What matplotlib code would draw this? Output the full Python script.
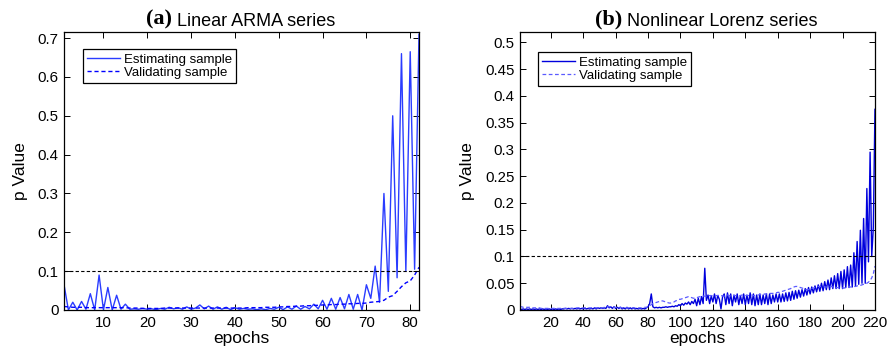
import numpy as np
import matplotlib
matplotlib.use("Agg")
import matplotlib.pyplot as plt
from matplotlib.ticker import FormatStrFormatter

plt.rcParams['font.family'] = ['Liberation Sans', 'DejaVu Sans']

# (a) Linear ARMA series, epochs 1..82
arma_est = [
    0.065, 0.0, 0.02, 0.0, 0.022, 0.002, 0.042, 0.0, 0.09, 0.0,
    0.058, 0.0, 0.038, 0.002, 0.015, 0.002, 0.003, 0.002, 0.004, 0.002,
    0.003, 0.001, 0.004, 0.002, 0.007, 0.003, 0.006, 0.002, 0.008, 0.002,
    0.005, 0.013, 0.003, 0.01, 0.002, 0.008, 0.002, 0.007, 0.001, 0.006,
    0.002, 0.004, 0.002, 0.003, 0.001, 0.003, 0.001, 0.004, 0.002, 0.007,
    0.001, 0.008, 0.002, 0.01, 0.002, 0.009, 0.003, 0.015, 0.003, 0.025,
    0.002, 0.03, 0.002, 0.032, 0.003, 0.04, 0.002, 0.04, 0.0, 0.065,
    0.03, 0.113, 0.02, 0.3, 0.048, 0.5, 0.083, 0.66, 0.1, 0.665,
    0.105, 0.71,
]
arma_val = [
    0.009, 0.008, 0.007, 0.007, 0.007, 0.006, 0.006, 0.006, 0.006, 0.006,
    0.006, 0.006, 0.006, 0.006, 0.006, 0.005, 0.005, 0.005, 0.004, 0.004,
    0.004, 0.004, 0.004, 0.005, 0.005, 0.005, 0.005, 0.005, 0.005, 0.005,
    0.005, 0.005, 0.005, 0.005, 0.005, 0.005, 0.005, 0.005, 0.005, 0.005,
    0.005, 0.005, 0.006, 0.006, 0.006, 0.006, 0.007, 0.007, 0.007, 0.008,
    0.008, 0.009, 0.009, 0.01, 0.01, 0.011, 0.011, 0.012, 0.012, 0.013,
    0.013, 0.014, 0.014, 0.015, 0.015, 0.016, 0.016, 0.017, 0.017, 0.018,
    0.02, 0.021, 0.022, 0.025, 0.033, 0.037, 0.048, 0.06, 0.07, 0.075,
    0.09, 0.11,
]

# (b) Nonlinear Lorenz series, epochs 1..220
lorenz_est = [
    0.002, 0.001, 0.002, 0.001, 0.002, 0.001, 0.002, 0.001, 0.002, 0.001,
    0.002, 0.001, 0.002, 0.001, 0.002, 0.001, 0.002, 0.001, 0.002, 0.001,
    0.002, 0.001, 0.002, 0.001, 0.002, 0.001, 0.002, 0.002, 0.003, 0.002,
    0.003, 0.002, 0.003, 0.002, 0.003, 0.002, 0.003, 0.002, 0.003, 0.002,
    0.003, 0.002, 0.003, 0.002, 0.003, 0.002, 0.004, 0.002, 0.004, 0.003,
    0.004, 0.003, 0.004, 0.003, 0.008, 0.004, 0.006, 0.003, 0.006, 0.003,
    0.005, 0.003, 0.005, 0.002, 0.004, 0.002, 0.005, 0.002, 0.004, 0.002,
    0.004, 0.002, 0.003, 0.002, 0.003, 0.002, 0.003, 0.002, 0.004, 0.006,
    0.012, 0.03, 0.006, 0.004, 0.005, 0.004, 0.005, 0.004, 0.005, 0.005,
    0.006, 0.005, 0.006, 0.006, 0.007, 0.006, 0.008, 0.007, 0.01, 0.008,
    0.012, 0.009, 0.013, 0.011, 0.015, 0.01, 0.016, 0.012, 0.02, 0.008,
    0.022, 0.01, 0.025, 0.012, 0.078, 0.018, 0.028, 0.012, 0.026, 0.015,
    0.03, 0.012, 0.027, 0.02, 0.002, 0.025, 0.03, 0.01, 0.032, 0.012,
    0.03, 0.008, 0.028, 0.015, 0.03, 0.01, 0.027, 0.012, 0.03, 0.01,
    0.028, 0.012, 0.032, 0.01, 0.03, 0.008, 0.028, 0.01, 0.03, 0.01,
    0.028, 0.012, 0.03, 0.01, 0.03, 0.012, 0.028, 0.015, 0.03, 0.015,
    0.03, 0.015, 0.03, 0.016, 0.032, 0.017, 0.033, 0.018, 0.035, 0.02,
    0.036, 0.022, 0.037, 0.024, 0.038, 0.026, 0.04, 0.028, 0.042, 0.03,
    0.043, 0.032, 0.045, 0.034, 0.047, 0.035, 0.05, 0.036, 0.053, 0.038,
    0.056, 0.038, 0.06, 0.04, 0.064, 0.04, 0.068, 0.04, 0.072, 0.04,
    0.075, 0.042, 0.081, 0.042, 0.084, 0.043, 0.107, 0.045, 0.128, 0.048,
    0.149, 0.05, 0.171, 0.05, 0.227, 0.09, 0.295, 0.1, 0.155, 0.375,
]
lorenz_val = [
    0.006, 0.006, 0.005, 0.005, 0.005, 0.005, 0.005, 0.004, 0.004, 0.004,
    0.004, 0.004, 0.004, 0.003, 0.003, 0.003, 0.003, 0.003, 0.003, 0.003,
    0.003, 0.003, 0.003, 0.003, 0.003, 0.003, 0.003, 0.003, 0.003, 0.003,
    0.003, 0.003, 0.003, 0.003, 0.003, 0.004, 0.004, 0.004, 0.004, 0.004,
    0.004, 0.004, 0.004, 0.004, 0.004, 0.004, 0.004, 0.004, 0.004, 0.004,
    0.004, 0.004, 0.005, 0.005, 0.006, 0.006, 0.006, 0.006, 0.005, 0.005,
    0.005, 0.005, 0.005, 0.004, 0.004, 0.004, 0.004, 0.004, 0.004, 0.004,
    0.004, 0.004, 0.004, 0.004, 0.004, 0.004, 0.004, 0.005, 0.005, 0.006,
    0.008, 0.01, 0.012, 0.013, 0.014, 0.015, 0.016, 0.017, 0.017, 0.016,
    0.015, 0.014, 0.013, 0.013, 0.014, 0.015, 0.017, 0.018, 0.02, 0.02,
    0.021, 0.022, 0.023, 0.024, 0.025, 0.024, 0.023, 0.022, 0.022, 0.023,
    0.024, 0.025, 0.025, 0.026, 0.026, 0.025, 0.026, 0.027, 0.027, 0.026,
    0.026, 0.027, 0.027, 0.028, 0.027, 0.026, 0.026, 0.027, 0.028, 0.027,
    0.026, 0.026, 0.027, 0.027, 0.026, 0.026, 0.027, 0.028, 0.028, 0.027,
    0.027, 0.027, 0.028, 0.028, 0.027, 0.027, 0.028, 0.028, 0.029, 0.029,
    0.029, 0.03, 0.03, 0.03, 0.031, 0.031, 0.031, 0.032, 0.032, 0.033,
    0.033, 0.034, 0.035, 0.036, 0.037, 0.038, 0.039, 0.04, 0.042, 0.043,
    0.044, 0.044, 0.043, 0.042, 0.041, 0.04, 0.039, 0.038, 0.038, 0.039,
    0.04, 0.041, 0.042, 0.043, 0.044, 0.044, 0.044, 0.043, 0.043, 0.043,
    0.043, 0.044, 0.044, 0.043, 0.043, 0.042, 0.042, 0.041, 0.041, 0.041,
    0.041, 0.042, 0.042, 0.043, 0.043, 0.043, 0.044, 0.044, 0.045, 0.046,
    0.046, 0.047, 0.048, 0.049, 0.05, 0.052, 0.055, 0.06, 0.068, 0.082,
]

arma_xticks = [10, 20, 30, 40, 50, 60, 70, 80]
lorenz_xticks = [20, 40, 60, 80, 100, 120, 140, 160, 180, 200, 220]
arma_yticks = [0, 0.1, 0.2, 0.3, 0.4, 0.5, 0.6, 0.7]
lorenz_yticks = [0, 0.05, 0.1, 0.15, 0.2, 0.25, 0.3, 0.35, 0.4, 0.45, 0.5]

fig = plt.figure(figsize=(8.93, 3.54), dpi=100)
ax1 = fig.add_axes([0.0717, 0.1243, 0.3975, 0.7845])
ax2 = fig.add_axes([0.5823, 0.1243, 0.3975, 0.7845])


def style(ax, xticks, yticks, xlim, ylim):
    ax.set_xlim(*xlim)
    ax.set_ylim(*ylim)
    ax.set_xticks(xticks)
    ax.set_yticks(yticks)
    ax.yaxis.set_major_formatter(FormatStrFormatter('%g'))
    ax.tick_params(direction='in', top=True, right=True, length=4,
                   width=0.7, labelsize=10.8, pad=4)
    for s in ax.spines.values():
        s.set_linewidth(0.9)
    ax.axhline(0.1, color='black', ls='--', lw=0.8, dashes=(3, 2))
    ax.set_xlabel('epochs', fontsize=12.5, labelpad=1)
    ax.set_ylabel('p Value', fontsize=12.5, labelpad=7)


def add_legend(ax, anchor):
    leg = ax.legend(loc='upper left', bbox_to_anchor=anchor, borderaxespad=0,
                    fancybox=False, edgecolor='black', framealpha=1,
                    fontsize=9.5, handlelength=2.5, labelspacing=0.05,
                    borderpad=0.35, handletextpad=0.25)
    leg.get_frame().set_linewidth(0.9)


def title(ax, tag, text, x0):
    t1 = ax.text(x0, 1.028, tag, transform=ax.transAxes, ha='left',
                 va='baseline', fontsize=16, fontweight='bold',
                 family='Liberation Serif')
    ax.annotate(text, xy=(1, 0), xycoords=t1, xytext=(3, 0),
                textcoords='offset points', ha='left', va='bottom',
                fontsize=13)


ep_a = np.arange(1, len(arma_est) + 1)
ax1.plot(ep_a, arma_est, color='#2a3cff', lw=1.0, label='Estimating sample')
ax1.plot(ep_a, arma_val, color='#0000ff', lw=1.0, ls='--', dashes=(3, 2),
         label='Validating sample')
style(ax1, arma_xticks, arma_yticks, (1, 82), (0, 0.715))
add_legend(ax1, (0.053, 0.94))
title(ax1, '(a)', 'Linear ARMA series', 0.232)

ep_b = np.arange(1, len(lorenz_est) + 1)
ax2.plot(ep_b, lorenz_est, color='#0000dd', lw=1.0, label='Estimating sample')
ax2.plot(ep_b, lorenz_val, color='#5a5aff', lw=0.9, ls='--', dashes=(3, 2),
         label='Validating sample')
style(ax2, lorenz_xticks, lorenz_yticks, (1, 220), (0, 0.519))
add_legend(ax2, (0.05, 0.929))
title(ax2, '(b)', 'Nonlinear Lorenz series', 0.212)

fig.savefig('out.png', dpi=100)
